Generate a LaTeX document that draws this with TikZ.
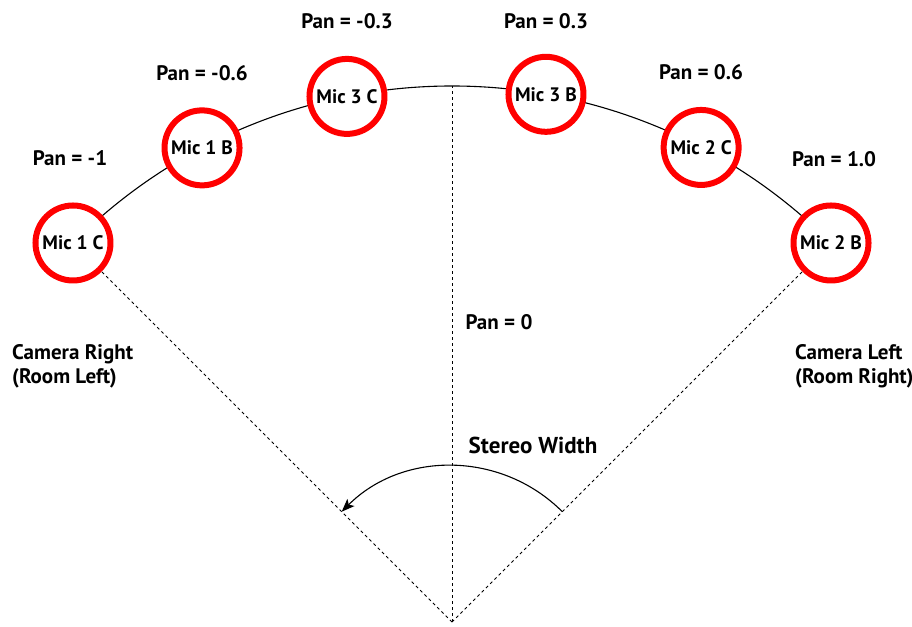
\documentclass[tikz,border=0pt]{standalone}
\usepackage{fontspec}
\setmainfont{PT Sans}
\usetikzlibrary{arrows.meta}
\begin{document}
\begin{tikzpicture}[x=1pt,y=1pt,
  mic/.style={circle,draw=red,line width=6pt,fill=white,minimum size=75pt,inner sep=0pt,font=\bfseries\fontsize{19.5}{22}\selectfont},
  pan/.style={font=\bfseries\fontsize{21}{24}\selectfont},
  guide/.style={dash pattern=on 3pt off 3pt,line width=0.9pt}]
\useasboundingbox (0,0) rectangle (912,626);
\coordinate (apex) at (452,4);
% the arc the mics stand on
\draw [line width=1.1pt] ([shift={(135:536)}]apex) arc (135:45:536);
\draw [guide] (apex) -- ([shift={(90:536)}]apex);
\node[mic] (m1c) at ([shift={(135:536)}]apex) {Mic 1 C};
\node[mic] (m1b) at ([shift={(117.8:536)}]apex) {Mic 1 B};
\node[mic] (m3c) at ([shift={(101.3:536)}]apex) {Mic 3 C};
\node[mic] (m3b) at ([shift={(79.9:536)}]apex) {Mic 3 B};
\node[mic] (m2c) at ([shift={(62.3:536)}]apex) {Mic 2 C};
\node[mic] (m2b) at ([shift={(45:536)}]apex) {Mic 2 B};
\draw [guide] (apex) -- (m1c);
\draw [guide] (apex) -- (m2b);
% pan values
\node[pan] (p1) at (70,468) {Pan = -1};
\node[pan] (p2) at (202,553) {Pan = -0.6};
\node[pan] (p3) at (347,605) {Pan = -0.3};
\node[pan] (p4) at (546,605) {Pan = 0.3};
\node[pan] (p5) at (701,554) {Pan = 0.6};
\node[pan] (p6) at (834,467) {Pan = 1.0};
\node[pan] (p0) at (499,304) {Pan = 0};
\node[pan,align=left,anchor=west,inner sep=0pt] (camr) at (12,260) {Camera Right\\(Room Left)};
\node[pan,align=left,anchor=west,inner sep=0pt] (caml) at (795,260) {Camera Left\\(Room Right)};
\node[pan,font=\bfseries\fontsize{23}{26}\selectfont] (sw) at (533,181) {Stereo Width};
\draw [-{Stealth[length=13pt,width=10pt,inset=3pt]},line width=1.1pt] ([shift={(45:156)}]apex) arc (45:135:156);
\end{tikzpicture}
\end{document}
